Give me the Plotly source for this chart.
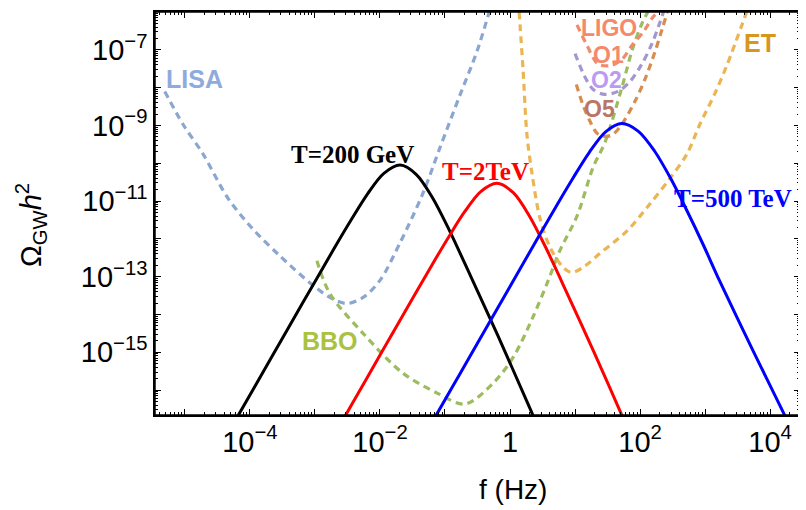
import numpy as np
import plotly.graph_objects as go

# ---- data (log10 values) ----
lisa_logf = [-5.31, -5.03, -4.72, -4.34, -3.95, -3.54, -3.08, -2.77, -2.51, -2.26, -2.0, -1.69, -1.34, -1.08, -0.77, -0.51, -0.32]
lisa_logo = [-8.1, -8.97, -9.76, -10.92, -11.75, -12.45, -13.16, -13.55, -13.71, -13.55, -13.1, -12.1, -10.8, -9.6, -8.2, -7.05, -6.0]

bbo_logf = [-2.97, -2.77, -2.26, -1.65, -1.12, -0.69, -0.26, 0.05, 0.35, 0.57, 0.77, 1.03, 1.28, 1.46, 1.72, 1.88, 2.03, 2.12]
bbo_logo = [-12.58, -13.45, -14.5, -15.55, -16.08, -16.37, -15.82, -15.13, -14.08, -13.18, -12.3, -11.4, -10.1, -9.45, -8.0, -7.0, -6.3, -6.0]

et_logf = [0.14, 0.2, 0.26, 0.34, 0.46, 0.62, 0.82, 0.95, 1.15, 1.38, 1.8, 2.15, 2.46, 2.72, 2.92, 3.15, 3.34, 3.65]
et_logo = [-6.0, -7.5, -9.24, -10.29, -11.45, -12.24, -12.76, -12.89, -12.72, -12.39, -11.79, -11.08, -10.4, -9.76, -8.97, -8.16, -7.39, -5.95]

o1_logf = [1.03, 1.18, 1.35, 1.54, 1.72, 1.88, 2.05, 2.2, 2.28]
o1_logo = [-6.34, -6.87, -7.37, -7.42, -7.26, -6.87, -6.53, -6.13, -6.0]

o2_logf = [1.0, 1.15, 1.28, 1.46, 1.66, 1.84, 2.02, 2.18, 2.3, 2.36]
o2_logo = [-7.1, -7.71, -8.05, -8.18, -8.1, -7.85, -7.4, -6.85, -6.3, -6.0]

o5_logf = [1.02, 1.12, 1.23, 1.34, 1.46, 1.58, 1.72, 1.92, 2.08, 2.23, 2.34, 2.42]
o5_logo = [-7.92, -8.45, -8.89, -9.21, -9.29, -9.24, -8.97, -8.37, -7.76, -7.05, -6.45, -6.0]

t200_logf = [-4.4, -4.19, -3.69, -3.19, -2.69, -2.44, -2.19, -1.94, -1.69, -1.44, -1.19, -0.94, -0.69, -0.19, 0.31, 0.6]
t200_logo = [-17.33, -16.7, -15.2, -13.7, -12.21, -11.49, -10.81, -10.27, -10.05, -10.3, -10.92, -11.75, -12.67, -14.55, -16.5, -17.65]

t2_logf = [-2.91, -2.7, -2.2, -1.7, -1.2, -0.95, -0.7, -0.45, -0.2, 0.05, 0.3, 0.55, 0.8, 1.3, 1.8, 2.09]
t2_logo = [-17.81, -17.18, -15.68, -14.18, -12.69, -11.97, -11.29, -10.75, -10.53, -10.78, -11.4, -12.23, -13.15, -15.03, -16.98, -18.13]

t500_logf = [-1.28, -1.13, -0.78, -0.28, 0.22, 0.72, 0.97, 1.22, 1.47, 1.72, 1.97, 2.22, 2.47, 2.72, 2.97, 3.22, 3.72, 4.22, 4.52]
t500_logo = [-17.1, -16.65, -15.6, -14.1, -12.6, -11.11, -10.39, -9.71, -9.17, -8.95, -9.15, -9.67, -10.4, -11.25, -12.15, -13.1, -14.9, -16.65, -17.75]

x_tick_exp = [-5, -4, -3, -2, -1, 0, 1, 2, 3, 4]
x_tick_text = ["", "10<sup>\u22124</sup>", "", "10<sup>\u22122</sup>", "", "1", "", "10<sup>2</sup>", "", "10<sup>4</sup>"]
y_tick_exp = [-16, -15, -14, -13, -12, -11, -10, -9, -8, -7, -6]
y_tick_text = ["", "10<sup>\u221215</sup>", "", "10<sup>\u221213</sup>", "", "10<sup>\u221211</sup>", "",
               "10<sup>\u22129</sup>", "", "10<sup>\u22127</sup>", ""]

# labels: (text, log f, log Omega, color, font family, size)
labels = [
    ("LISA", -4.86, -7.76, "#8faadc", "Liberation Sans", 25),
    ("BBO", -2.77, -14.71, "#a9c23f", "Liberation Sans", 25),
    ("ET", 3.85, -6.82, "#d7971f", "Liberation Sans", 25),
    ("LIGO", 1.52, -6.42, "#f5896b", "Liberation Sans", 23),
    ("O1", 1.51, -7.13, "#f5896b", "Liberation Sans", 23),
    ("O2", 1.48, -7.8, "#b99bf2", "Liberation Sans", 23),
    ("O5", 1.38, -8.57, "#b97667", "Liberation Sans", 23),
    ("T=200 GeV", -2.43, -9.76, "#000000", "Liberation Serif", 25),
    ("T=2TeV", -0.37, -10.21, "#ff0000", "Liberation Serif", 25),
    ("T=500 TeV", 3.43, -10.92, "#0000ff", "Liberation Serif", 25),
]

fig = go.Figure()

def add(logf, logo, color, dash=None, width=3):
    fig.add_trace(go.Scatter(
        x=10 ** np.array(logf), y=10 ** np.array(logo), mode="lines",
        line=dict(color=color, width=width, dash=dash, shape="spline", smoothing=0.9),
        hoverinfo="skip", showlegend=False))

dash = "7px,5px"
add(lisa_logf, lisa_logo, "#8ba6d0", dash, 3.2)
add(bbo_logf, bbo_logo, "#9cbc5e", dash, 3.2)
add(et_logf, et_logo, "#ebb554", dash, 3.2)
add(o1_logf, o1_logo, "#f08b6d", dash, 3.2)
add(o2_logf, o2_logo, "#a497d0", dash, 3.2)
add(o5_logf, o5_logo, "#d98c4e", dash, 3.2)
add(t200_logf, t200_logo, "#000000")
add(t2_logf, t2_logo, "#ff0000")
add(t500_logf, t500_logo, "#0000ff")

for text, lx, ly, col, fam, sz in labels:
    fig.add_annotation(x=lx, y=ly, xref="x", yref="y", text="<b>%s</b>" % text,
                       showarrow=False, font=dict(family=fam, size=sz, color=col))

x_minor = [k * 10.0 ** d for d in range(-6, 5) for k in range(2, 10)]
y_minor = [k * 10.0 ** d for d in range(-17, -5) for k in range(2, 10)]

axis_common = dict(showline=True, linecolor="black", linewidth=1.5, mirror="ticks",
                   ticks="inside", ticklen=6, tickwidth=1.2, tickcolor="black",
                   showgrid=False, zeroline=False,
                   tickfont=dict(family="Liberation Sans", size=29, color="black"))

fig.update_xaxes(type="log", range=[-5.46, 4.46], tickmode="array",
                 tickvals=[10.0 ** e for e in x_tick_exp], ticktext=x_tick_text,
                 minor=dict(tickmode="array", tickvals=x_minor, ticks="inside", ticklen=3,
                            tickwidth=1, tickcolor="black", showgrid=False),
                 **axis_common)
fig.update_yaxes(type="log", range=[-16.66, -6.0], tickmode="array",
                 tickvals=[10.0 ** e for e in y_tick_exp], ticktext=y_tick_text,
                 minor=dict(tickmode="array", tickvals=y_minor, ticks="inside", ticklen=3,
                            tickwidth=1, tickcolor="black", showgrid=False),
                 **axis_common)

# frame around the plotting area
fig.add_shape(type="rect", xref="paper", yref="paper", x0=0, x1=1, y0=0, y1=1,
              line=dict(color="black", width=1.5), layer="above")

# page body has an 8px margin: the figure is sized/offset to compensate
L, T, W, H = 147, 2, 798, 502
PW, PH = 645, 405
fig.add_annotation(x=(505 - L) / PW, y=(T + PH - 482) / PH, xref="paper", yref="paper",
                   text="f (Hz)", showarrow=False, yanchor="middle",
                   font=dict(family="Liberation Sans", size=28, color="black"))
fig.add_annotation(x=(23 - L) / PW, y=(T + PH - 216) / PH, xref="paper", yref="paper",
                   text="\u03a9<sub>GW</sub><i>h</i><sup>2</sup>", showarrow=False,
                   textangle=-90, xanchor="center", yanchor="middle",
                   font=dict(family="Liberation Sans", size=29, color="black"))

fig.update_layout(width=W, height=H, margin=dict(l=L, r=W - L - PW, t=T, b=H - T - PH),
                  paper_bgcolor="white", plot_bgcolor="white", showlegend=False)

fig.write_html("out.html")
